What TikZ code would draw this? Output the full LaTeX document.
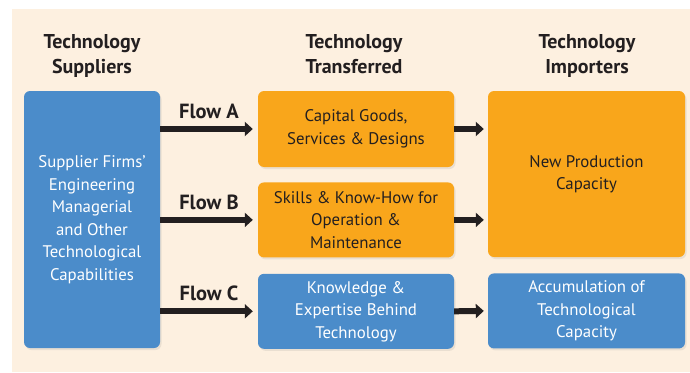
\documentclass[tikz,border=0pt]{standalone}
\usepackage{fontspec}
\setmainfont{PT Sans}
\usetikzlibrary{arrows.meta, positioning, shadows}
\definecolor{BoxBlue}{RGB}{75, 140, 202}
\definecolor{BoxOrange}{RGB}{249, 166, 27}
\definecolor{Cream}{RGB}{253, 240, 224}
\definecolor{InkDark}{RGB}{35, 31, 32}
\begin{document}
\begin{tikzpicture}[
        x=1pt, y=-1pt,
        % Styles
        box/.style={rectangle, rounded corners=6pt, align=center, inner sep=0pt, font=\fontsize{16.8}{22.5}\selectfont, drop shadow={opacity=0.15, shadow xshift=1.5pt, shadow yshift=-2pt}},
        bluebox/.style={box, fill=BoxBlue, text=white},
        orangebox/.style={box, fill=BoxOrange, text=InkDark},
        header/.style={anchor=north, align=center, font=\fontsize{20}{25}\selectfont\bfseries, text=InkDark},
        flow/.style={draw=InkDark, line width=6pt, -{Triangle[length=8pt, width=14pt]}},
        flowlabel/.style={font=\fontsize{20.5}{22}\selectfont\bfseries, text=InkDark}
    ]
        \useasboundingbox (0,0) rectangle (690,372);
        \fill[Cream] (12,9) rectangle (690,372);

        % Headers
        \node [header] (hsupp) at (92,31) {Technology\\Suppliers};
        \node [header] (htrans) at (354,31) {Technology\\Transferred};
        \node [header] (himp) at (587,31) {Technology\\Importers};

        % Boxes
        \node [bluebox, minimum width=136pt, minimum height=257pt] (supp) at (92,219.5) {Supplier Firms'\\Engineering\\Managerial\\and Other\\Technological\\Capabilities};
        \node [orangebox, minimum width=196pt, minimum height=76pt] (cap) at (356,129) {Capital Goods,\\Services \& Designs};
        \node [orangebox, minimum width=196pt, minimum height=75pt, below=15pt of cap] (skill) {Skills \& Know-How for\\Operation \&\\Maintenance};
        \node [bluebox, minimum width=196pt, minimum height=75pt, below=16pt of skill] (know) {Knowledge \&\\Expertise Behind\\Technology};
        \node [orangebox, minimum width=197pt, minimum height=166pt] (newprod) at (586.5,174) {New Production\\Capacity};
        \node [bluebox, minimum width=197pt, minimum height=75pt, below=16pt of newprod] (accum) {Accumulation of\\Technological\\Capacity};

        % Flows
        \draw [flow, shorten >=5pt] (supp.east |- cap.west) -- node [flowlabel, above=4pt] {Flow A} (cap.west);
        \draw [flow, shorten >=5pt] (supp.east |- skill.west) -- node [flowlabel, above=4pt] {Flow B} (skill.west);
        \draw [flow, shorten >=5pt] (supp.east |- know.west) -- node [flowlabel, above=4pt] {Flow C} (know.west);

        \draw [flow, shorten >=4pt] (cap.east) -- (newprod.west |- cap.east);
        \draw [flow, shorten >=4pt] (skill.east) -- (newprod.west |- skill.east);
        \draw [flow, shorten >=4pt] (know.east) -- (accum.west);
    \end{tikzpicture}
\end{document}
